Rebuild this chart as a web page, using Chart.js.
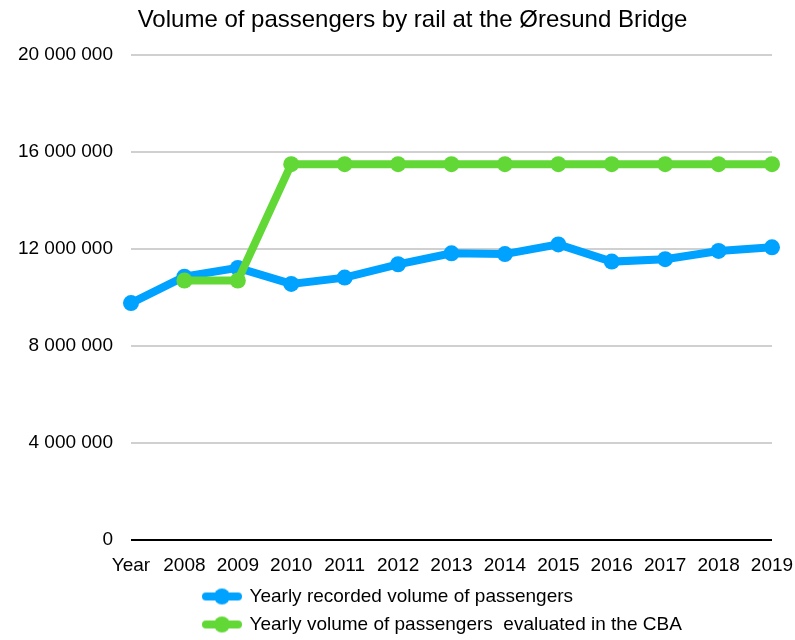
<!DOCTYPE html>
<html>
<head>
<meta charset="utf-8">
<title>Øresund Bridge – rail passengers</title>
<script src="https://cdn.jsdelivr.net/npm/chart.js@4.4.1/dist/chart.umd.min.js"></script>
<style>
  html, body { margin: 0; padding: 0; background: #fff; }
  #wrap { width: 795px; height: 640px; }
</style>
</head>
<body>
<div id="wrap"><canvas id="railChart"></canvas></div>
<script>
"use strict";

// categories on the x axis
const years = ['Year', '2008', '2009', '2010', '2011', '2012', '2013', '2014', '2015', '2016', '2017', '2018', '2019'];

// passengers per year
const recordedPassengers = [9770000, 10860000, 11220000, 10560000, 10820000, 11370000, 11820000, 11790000, 12190000, 11480000, 11580000, 11920000, 12070000];
const cbaPassengers = [null, 10700000, 10700000, 15500000, 15500000, 15500000, 15500000, 15500000, 15500000, 15500000, 15500000, 15500000, 15500000];

// y axis ticks
const yTicks = [0, 4000000, 8000000, 12000000, 16000000, 20000000];

const seriesNames = ['Yearly recorded volume of passengers', 'Yearly volume of passengers  evaluated in the CBA'];
const BLUE = '#00A2FF';
const GREEN = '#61D836';
const FONT = '"Liberation Sans", Arial, Helvetica, sans-serif';

// legend rows are stacked and start at a fixed x
const LEGEND_LEFT = 195;
const LEGEND_WIDTH = 500;
const LEGEND_HEIGHT = 62;

function legendMarker(color) {
    const c = document.createElement('canvas');
    c.width = 40;
    c.height = 18;
    const g = c.getContext('2d');
    g.strokeStyle = color;
    g.lineWidth = 8;
    g.lineCap = 'round';
    g.beginPath();
    g.moveTo(4, 9);
    g.lineTo(36, 9);
    g.stroke();
    g.fillStyle = color;
    g.beginPath();
    g.arc(20, 9, 8, 0, Math.PI * 2);
    g.fill();
    return c;
}

function spaced(v) {
    return String(v).replace(/\B(?=(\d{3})+(?!\d))/g, ' ');
}

// stack the legend items and centre the title over the plot
const boxTweaks = {
    id: 'boxTweaks',
    afterInit(chart) {
        const legend = chart.legend;
        const update = legend.update;
        legend.update = function (maxWidth, maxHeight, margins) {
            update.call(this, LEGEND_WIDTH, maxHeight, margins);
            this.height = LEGEND_HEIGHT;
        };
    },
    afterLayout(chart) {
        chart.legend.left = LEGEND_LEFT;
        chart.legend.right = LEGEND_LEFT + LEGEND_WIDTH;
        chart.titleBlock.left = 53;
        chart.titleBlock.right = chart.chartArea.right;
    }
};

const markers = [legendMarker(BLUE), legendMarker(GREEN)];

function lineDataset(label, data, color, order) {
    return {
        label: label,
        data: data,
        borderColor: color,
        backgroundColor: color,
        borderWidth: 8,
        pointRadius: 8,
        pointHoverRadius: 8,
        pointBorderWidth: 0,
        pointBackgroundColor: color,
        tension: 0,
        clip: false,
        order: order
    };
}

new Chart(document.getElementById('railChart'), {
    type: 'line',
    data: {
        labels: years,
        datasets: [
            lineDataset(seriesNames[0], recordedPassengers, BLUE, 1),
            lineDataset(seriesNames[1], cbaPassengers, GREEN, 0)
        ]
    },
    options: {
        responsive: true,
        maintainAspectRatio: false,
        devicePixelRatio: 1,
        animation: false,
        layout: { padding: 0 },
        plugins: {
            title: {
                display: true,
                text: 'Volume of passengers by rail at the Øresund Bridge',
                color: '#000',
                font: { family: FONT, size: 24, weight: 'normal' },
                padding: { top: 6, bottom: 20.2 }
            },
            legend: {
                position: 'bottom',
                align: 'start',
                labels: {
                    color: '#000',
                    font: { family: FONT, size: 19 },
                    usePointStyle: true,
                    pointStyleWidth: 36,
                    padding: 9,
                    sort: (a, b) => a.datasetIndex - b.datasetIndex,
                    generateLabels(chart) {
                        const items = Chart.defaults.plugins.legend.labels.generateLabels(chart);
                        items.forEach(it => { it.pointStyle = markers[it.datasetIndex]; });
                        return items;
                    }
                }
            },
            tooltip: { enabled: false }
        },
        scales: {
            x: {
                afterFit(scale) {
                    scale.height = 38;
                    scale.paddingLeft = 0;
                    scale.paddingRight = 23;
                },
                grid: { display: false, drawTicks: false },
                border: { display: false },
                ticks: {
                    color: '#000',
                    font: { family: FONT, size: 19 },
                    padding: 14.6,
                    maxRotation: 0,
                    autoSkip: false
                }
            },
            y: {
                min: yTicks[0],
                max: yTicks[yTicks.length - 1],
                afterFit(scale) { scale.width = 131; },
                afterBuildTicks(scale) { scale.ticks = yTicks.map(v => ({ value: v })); },
                grid: {
                    drawTicks: false,
                    color: ctx => ctx.tick && ctx.tick.value === 0 ? '#000' : '#d0d0d0',
                    lineWidth: 2
                },
                border: { display: false },
                ticks: {
                    color: '#000',
                    font: { family: FONT, size: 19 },
                    padding: 18,
                    callback: v => spaced(v)
                }
            }
        }
    },
    plugins: [boxTweaks]
});
</script>
</body>
</html>
